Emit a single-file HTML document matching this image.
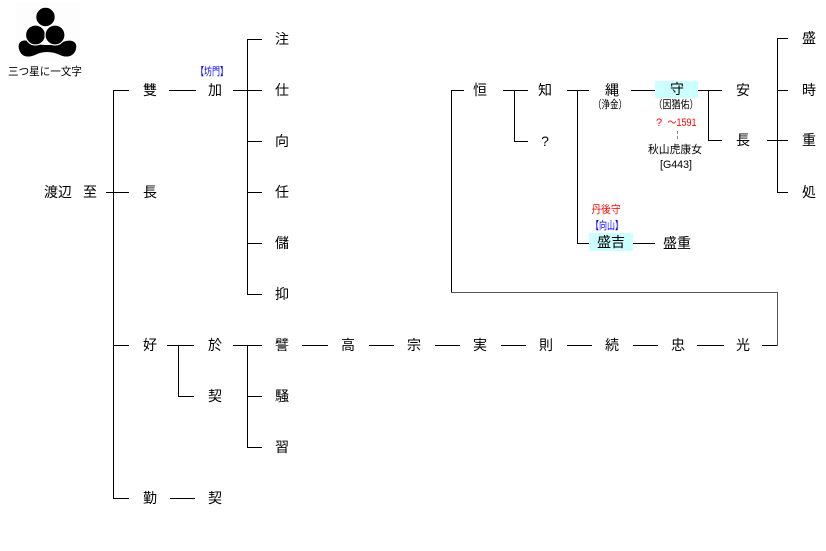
<!DOCTYPE html>
<html><head><meta charset="utf-8"><style>
html,body{margin:0;padding:0;background:#fff;}
svg{display:block;}
text{font-family:"Liberation Sans","Noto Sans CJK JP",sans-serif;}
.k{font-size:14px;fill:#000;}
.s{font-size:11px;}
</style></head><body>
<svg width="826" height="551" viewBox="0 0 826 551" xmlns="http://www.w3.org/2000/svg">
<rect x="0" y="0" width="826" height="551" fill="#fff"/>
<rect x="16" y="3" width="64" height="58" fill="#fdfdfd"/>
<path d="M19,49 C17,40 25,39 31,42 C40,46 54,46 63,42 C70,39 78,41 76,49 C74,57 66,58 60,55 C52,51 42,51 35,55 C28,58 21,57 19,49 Z" fill="#000"/>
<circle cx="35.5" cy="35" r="10" fill="#000" stroke="#fff" stroke-width="1.2"/>
<circle cx="55" cy="35" r="10" fill="#000" stroke="#fff" stroke-width="1.2"/>
<circle cx="45.5" cy="17" r="9.8" fill="#000" stroke="#fff" stroke-width="1.2"/>
<text x="45" y="72" class="s" text-anchor="middle" dominant-baseline="central" textLength="74" lengthAdjust="spacingAndGlyphs">三つ星に一文字</text>
<g stroke="#000" stroke-width="1" fill="none" shape-rendering="crispEdges">
<line x1="113.5" y1="90" x2="113.5" y2="498"/>
<line x1="113" y1="90.5" x2="129" y2="90.5"/>
<line x1="106" y1="192.5" x2="129" y2="192.5"/>
<line x1="113" y1="345.5" x2="129" y2="345.5"/>
<line x1="113" y1="498.5" x2="129" y2="498.5"/>
<line x1="169" y1="90.5" x2="196" y2="90.5"/>
<line x1="233" y1="90.5" x2="262" y2="90.5"/>
<line x1="247.5" y1="39" x2="247.5" y2="295"/>
<line x1="247" y1="39.5" x2="262" y2="39.5"/>
<line x1="247" y1="141.5" x2="262" y2="141.5"/>
<line x1="247" y1="192.5" x2="262" y2="192.5"/>
<line x1="247" y1="243.5" x2="262" y2="243.5"/>
<line x1="247" y1="294.5" x2="262" y2="294.5"/>
<line x1="167" y1="345.5" x2="194" y2="345.5"/>
<line x1="178.5" y1="345" x2="178.5" y2="397"/>
<line x1="178" y1="396.5" x2="194" y2="396.5"/>
<line x1="233" y1="345.5" x2="262" y2="345.5"/>
<line x1="247.5" y1="345" x2="247.5" y2="448"/>
<line x1="247" y1="396.5" x2="262" y2="396.5"/>
<line x1="247" y1="447.5" x2="262" y2="447.5"/>
<line x1="170" y1="498.5" x2="195" y2="498.5"/>
<line x1="302" y1="345.5" x2="328" y2="345.5"/>
<line x1="369" y1="345.5" x2="394" y2="345.5"/>
<line x1="435" y1="345.5" x2="460" y2="345.5"/>
<line x1="501" y1="345.5" x2="526" y2="345.5"/>
<line x1="567" y1="345.5" x2="592" y2="345.5"/>
<line x1="633" y1="345.5" x2="658" y2="345.5"/>
<line x1="697" y1="345.5" x2="724" y2="345.5"/>
<line x1="762" y1="345.5" x2="778" y2="345.5"/>
<line x1="451.5" y1="90" x2="451.5" y2="292"/>
<line x1="451" y1="90.5" x2="464" y2="90.5"/>
<line x1="503" y1="90.5" x2="528" y2="90.5"/>
<line x1="514.5" y1="90" x2="514.5" y2="142"/>
<line x1="514" y1="141.5" x2="528" y2="141.5"/>
<line x1="567" y1="90.5" x2="589" y2="90.5"/>
<line x1="577.5" y1="90" x2="577.5" y2="244"/>
<line x1="577" y1="243.5" x2="590" y2="243.5"/>
<line x1="631" y1="90.5" x2="655" y2="90.5"/>
<line x1="698" y1="90.5" x2="722" y2="90.5"/>
<line x1="708.5" y1="90" x2="708.5" y2="141"/>
<line x1="708" y1="140.5" x2="722" y2="140.5"/>
<line x1="767" y1="140.5" x2="788" y2="140.5"/>
<line x1="777.5" y1="38" x2="777.5" y2="193"/>
<line x1="777" y1="38.5" x2="788" y2="38.5"/>
<line x1="777" y1="90.5" x2="788" y2="90.5"/>
<line x1="777" y1="192.5" x2="788" y2="192.5"/>
<line x1="633" y1="243.5" x2="655" y2="243.5"/>
</g>
<g stroke="#555" stroke-width="1" fill="none" shape-rendering="crispEdges">
<line x1="451" y1="292.5" x2="778" y2="292.5"/>
<line x1="777.5" y1="292" x2="777.5" y2="346"/>
<line x1="677.5" y1="131" x2="677.5" y2="134" stroke="#888"/>
<line x1="677.5" y1="136" x2="677.5" y2="139" stroke="#888"/>
</g>
<rect x="655" y="81" width="43" height="17" fill="#ccffff"/>
<rect x="589" y="233" width="44" height="18" fill="#ccffff"/>
<g class="k" text-anchor="middle" dominant-baseline="central">
<text x="58" y="192">渡辺</text>
<text x="90" y="192">至</text>
<text x="150" y="90">雙</text>
<text x="150" y="192">長</text>
<text x="150" y="345">好</text>
<text x="150" y="498">勤</text>
<text x="215" y="90">加</text>
<text x="215" y="345">於</text>
<text x="215" y="396">契</text>
<text x="215" y="498">契</text>
<text x="282" y="39">注</text>
<text x="282" y="90">仕</text>
<text x="282" y="141">向</text>
<text x="282" y="192">任</text>
<text x="282" y="243">儲</text>
<text x="282" y="294">抑</text>
<text x="282" y="345">譬</text>
<text x="282" y="396">騒</text>
<text x="282" y="447">習</text>
<text x="348" y="345">高</text>
<text x="414" y="345">宗</text>
<text x="480" y="345">実</text>
<text x="546" y="345">則</text>
<text x="612" y="345">続</text>
<text x="678" y="345">忠</text>
<text x="743" y="345">光</text>
<text x="480" y="90">恒</text>
<text x="545" y="90">知</text>
<text x="545" y="141">?</text>
<text x="612" y="90">縄</text>
<text x="677" y="89">守</text>
<text x="743" y="90">安</text>
<text x="743" y="140">長</text>
<text x="611" y="242">盛吉</text>
<text x="677" y="243">盛重</text>
<text x="809" y="38">盛</text>
<text x="809" y="90">時</text>
<text x="809" y="140">重</text>
<text x="809" y="192">処</text>
</g>
<g class="s" dominant-baseline="central">
<text x="212" y="72" fill="#0000ff" text-anchor="middle" textLength="32" lengthAdjust="spacingAndGlyphs">【坊門】</text>
<text x="610" y="105" fill="#000" text-anchor="middle" textLength="34" lengthAdjust="spacingAndGlyphs">（浄金）</text>
<text x="676" y="105" fill="#000" text-anchor="middle" textLength="45" lengthAdjust="spacingAndGlyphs">（因猶佑）</text>
<text x="659" y="123" fill="#ff0000" text-anchor="middle">?</text>
<text x="682" y="123" fill="#ff0000" text-anchor="middle" textLength="29" lengthAdjust="spacingAndGlyphs">〜1591</text>
<text x="675" y="150" fill="#000" text-anchor="middle" textLength="54" lengthAdjust="spacingAndGlyphs">秋山虎康女</text>
<text x="676" y="165" fill="#000" text-anchor="middle" textLength="32" lengthAdjust="spacingAndGlyphs">[G443]</text>
<text x="606" y="210" fill="#ff0000" text-anchor="middle" textLength="29" lengthAdjust="spacingAndGlyphs">丹後守</text>
<text x="607" y="226" fill="#0000ff" text-anchor="middle" textLength="32" lengthAdjust="spacingAndGlyphs">【向山】</text>
</g>
</svg>
</body></html>
